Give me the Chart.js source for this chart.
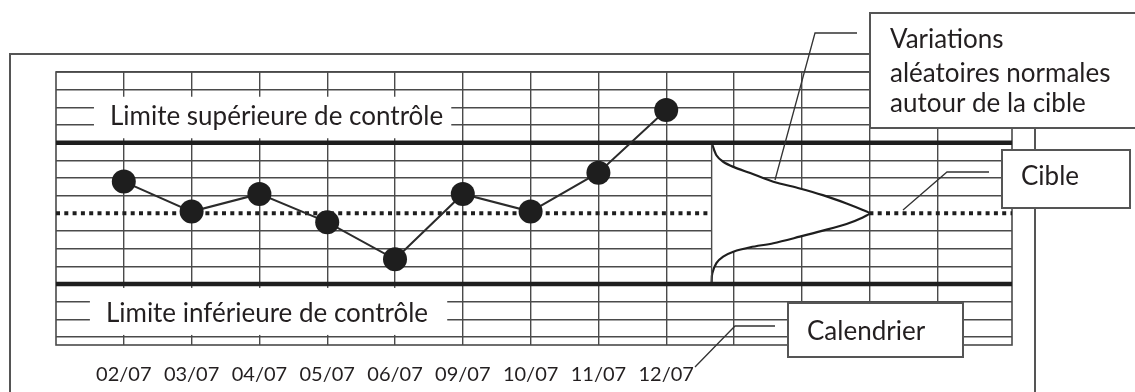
<!DOCTYPE html>
<html>
<head>
<meta charset="utf-8">
<script src="https://cdn.jsdelivr.net/npm/chart.js@4.4.1/dist/chart.umd.min.js"></script>
<style>
  html, body { margin: 0; padding: 0; background: #fff; }
  #wrap { width: 1135px; height: 392px; position: relative; }
</style>
</head>
<body>
<div id="wrap"><canvas id="chart"></canvas></div>
<script>
// columns of the calendar: 9 dated samples, then 4 empty columns
const dates = ['02/07', '03/07', '04/07', '05/07', '06/07', '09/07', '10/07', '11/07', '12/07']
const columns = [...dates, '', '', '', '']
const measures = [1.8, 0.1, 1.1, -0.5, -2.6, 1.1, 0.1, 2.3, 5.85]

const target = 0
const upperLimit = 4
const lowerLimit = -4
const levels = [-7, -6, -5, -4, -3, -2, -1, 1, 2, 3, 4, 5, 6, 7, 8]

// bell curve of the normal variations
const bellX = [9.67, 9.74, 9.84, 9.99, 10.24, 10.58, 10.97, 11.31, 11.66, 11.9, 12.0,
               11.9, 11.66, 11.31, 10.97, 10.58, 10.24, 9.99, 9.84, 9.74, 9.68, 9.67, 9.67, 9.67]
const bellY = [4, 3.29, 2.92, 2.63, 2.28, 1.79, 1.41, 1.03, 0.56, 0.19, 0,
               -0.23, -0.6, -0.98, -1.32, -1.69, -1.92, -2.17, -2.45, -2.82, -3.39, -3.86, -4, 4]

const xMin = 0
const xMax = 14.1
const yMin = -7.45
const yMax = 8

const ink = '#231f20'
const gridColor = '#4a4a4a'
const fontFamily = 'Lato, "Open Sans", sans-serif'

const limitCaptions = [
  { text: 'Limite supérieure de contrôle', x0: 0.56, x1: 5.83, y0: 4.25, y1: 6.6 },
  { text: 'Limite inférieure de contrôle', x0: 0.5, x1: 5.77, y0: -6.88, y1: -4.22 },
]

const callouts = [
  { lines: ['Variations', 'aléatoires normales', 'autour de la cible'],
    box: [870, 13, 1150, 128], textX: 890, baselines: [48, 81.5, 111.5],
    leader: [[857, 33], [815, 33], [775, 180]] },
  { lines: ['Cible'],
    box: [1002, 150, 1130, 208], textX: 1021, baselines: [185],
    leader: [[989, 172], [947, 172], [903, 210]] },
  { lines: ['Calendrier'],
    box: [788, 303, 963, 357], textX: 807, baselines: [340],
    leader: [[775, 326], [735, 326], [695, 367]] },
]

const decor = {
  id: 'decor',
  beforeDatasetsDraw(chart) {
    const { ctx, chartArea: a, scales: { x, y } } = chart
    ctx.save()
    ctx.strokeStyle = gridColor
    ctx.lineWidth = 1.6
    ctx.strokeRect(a.left, a.top, a.right - a.left, a.bottom - a.top)

    ctx.strokeStyle = '#555'
    ctx.lineWidth = 2
    ctx.beginPath()
    ctx.moveTo(10, 400)
    ctx.lineTo(10, 54)
    ctx.lineTo(1035, 54)
    ctx.lineTo(1035, 400)
    ctx.stroke()

    ctx.font = `26px ${fontFamily}`
    ctx.textBaseline = 'alphabetic'
    for (const c of limitCaptions) {
      const l = x.getPixelForValue(c.x0), r = x.getPixelForValue(c.x1)
      const t = y.getPixelForValue(c.y1), b = y.getPixelForValue(c.y0)
      ctx.fillStyle = '#fff'
      ctx.fillRect(l, t, r - l, b - t)
      ctx.fillStyle = ink
      ctx.fillText(c.text, l + 16, b - 13)
    }
    ctx.restore()
  },
  afterDatasetsDraw(chart) {
    const { ctx } = chart
    ctx.save()
    ctx.font = `26px ${fontFamily}`
    ctx.textBaseline = 'alphabetic'
    for (const c of callouts) {
      const [l, t, r, b] = c.box
      ctx.fillStyle = '#fff'
      ctx.fillRect(l, t, r - l, b - t)
      ctx.strokeStyle = '#555'
      ctx.lineWidth = 2
      ctx.strokeRect(l, t, r - l, b - t)
      ctx.fillStyle = ink
      c.lines.forEach((s, i) => ctx.fillText(s, c.textX, c.baselines[i]))

      ctx.strokeStyle = '#333'
      ctx.lineWidth = 1.3
      ctx.beginPath()
      c.leader.forEach(([px, py], i) => i ? ctx.lineTo(px, py) : ctx.moveTo(px, py))
      ctx.stroke()
    }
    ctx.restore()
  }
}

const flat = v => [{ x: xMin, y: v }, { x: xMax, y: v }]
const lastBellSeg = bellX.length - 2

new Chart(document.getElementById('chart'), {
  type: 'line',
  data: {
    datasets: [
      {
        data: measures.map((v, i) => ({ x: i + 1, y: v })),
        borderColor: '#2b2b2b',
        borderWidth: 2,
        pointRadius: 12,
        pointHoverRadius: 12,
        pointBackgroundColor: '#1e1e1e',
        pointBorderWidth: 0,
        tension: 0,
      },
      { data: flat(upperLimit), borderColor: '#1e1e1e', borderWidth: 4.6, pointRadius: 0 },
      { data: flat(lowerLimit), borderColor: '#1e1e1e', borderWidth: 4.6, pointRadius: 0 },
      {
        data: bellX.map((v, i) => ({ x: v, y: bellY[i] })),
        borderColor: '#1e1e1e',
        borderWidth: 2.2,
        backgroundColor: '#fff',
        fill: 'shape',
        pointRadius: 0,
        tension: 0.3,
        segment: {
          borderColor: c => c.p0DataIndex === lastBellSeg ? gridColor : undefined,
          borderWidth: c => c.p0DataIndex === lastBellSeg ? 1.4 : undefined,
        },
      },
      {
        data: flat(target),
        borderColor: '#1e1e1e',
        borderWidth: 4,
        borderDash: [4, 4.3],
        pointRadius: 0,
      },
    ]
  },
  options: {
    responsive: true,
    maintainAspectRatio: false,
    animation: false,
    events: [],
    layout: { padding: { left: 56, right: 123, top: 72, bottom: 0 } },
    plugins: { legend: { display: false }, tooltip: { enabled: false } },
    scales: {
      x: {
        type: 'linear',
        min: xMin,
        max: xMax,
        afterBuildTicks: s => { s.ticks = columns.map((_, i) => ({ value: i + 1 })) },
        afterFit: s => { s.height = 47 },
        ticks: {
          autoSkip: false,
          maxRotation: 0,
          padding: 18,
          color: ink,
          font: { family: fontFamily, size: 20 },
          callback: v => columns[v - 1] ?? '',
        },
        grid: { color: gridColor, lineWidth: 1.4, drawTicks: false },
        border: { display: false },
      },
      y: {
        type: 'linear',
        min: yMin,
        max: yMax,
        afterBuildTicks: s => { s.ticks = levels.map(v => ({ value: v })) },
        afterFit: s => { s.width = 0 },
        ticks: { display: false },
        grid: { color: gridColor, lineWidth: 1.4, drawTicks: false },
        border: { display: false },
      }
    }
  },
  plugins: [decor]
})
</script>
</body>
</html>
